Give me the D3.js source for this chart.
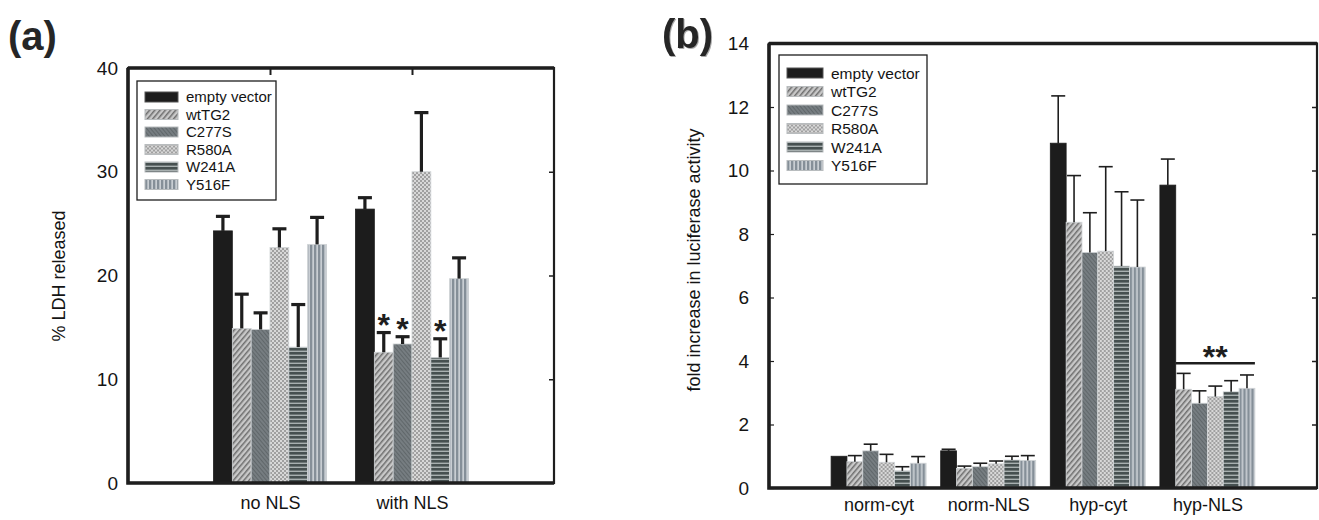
<!DOCTYPE html>
<html>
<head>
<meta charset="utf-8">
<script src="https://cdn.jsdelivr.net/npm/d3@7"></script>
<style>
  body { margin: 0; background: #fff; }
  svg { display: block; font-family: "Liberation Sans", Arial, sans-serif; }
</style>
</head>
<body>
<svg width="1319" height="520"></svg>
<script>
var svg = d3.select("svg");

// series shared by both panels
var seriesNames = ["empty vector", "wtTG2", "C277S", "R580A", "W241A", "Y516F"];

// panel (a): % LDH released
var ldhGroups = ["no NLS", "with NLS"];
var ldhMean = [
    [24.3, 14.9, 14.8, 22.7, 13.1, 23.0],
    [26.4, 12.6, 13.4, 30.0, 12.1, 19.7]
];
var ldhErr = [
    [1.4, 3.3, 1.6, 1.8, 4.1, 2.6],
    [1.1, 1.9, 0.7, 5.7, 1.8, 2.0]
];
var ldhStar = [
    [0, 0, 0, 0, 0, 0],
    [0, 1, 1, 0, 1, 0]
];
var ldhTicks = [0, 10, 20, 30, 40];

// panel (b): fold increase in luciferase activity
var lucGroups = ["norm-cyt", "norm-NLS", "hyp-cyt", "hyp-NLS"];
var lucMean = [
    [1.00, 0.83, 1.17, 0.81, 0.54, 0.78],
    [1.17, 0.62, 0.67, 0.76, 0.88, 0.87],
    [10.86, 8.37, 7.42, 7.46, 6.99, 6.96],
    [9.54, 3.11, 2.67, 2.88, 3.03, 3.14]
];
var lucErr = [
    [0, 0.19, 0.21, 0.25, 0.13, 0.21],
    [0.05, 0.07, 0.11, 0.09, 0.12, 0.15],
    [1.49, 1.47, 1.25, 2.66, 2.34, 2.11],
    [0.82, 0.50, 0.39, 0.33, 0.35, 0.42]
];
var lucTicks = [0, 2, 4, 6, 8, 10, 12, 14];
var lucSigLevel = 3.93;

// ---- patterns ----
var defs = svg.append("defs");

function pat(id, w, h, draw, rot) {
    var p = defs.append("pattern")
        .attr("id", id)
        .attr("patternUnits", "userSpaceOnUse")
        .attr("width", w).attr("height", h);
    if (rot) p.attr("patternTransform", "rotate(" + rot + ")");
    draw(p);
}
pat("p0", 4, 4, p => p.append("rect").attr("width", 4).attr("height", 4).attr("fill", "#1c1c1c"));
pat("p1", 4, 4, p => {
    p.append("rect").attr("width", 4).attr("height", 4).attr("fill", "#c8c8c8");
    p.append("rect").attr("width", 1.5).attr("height", 4).attr("fill", "#6e6e6e");
}, 40);
pat("p2", 3, 3, p => {
    p.append("rect").attr("width", 3).attr("height", 3).attr("fill", "#767d81");
    p.append("rect").attr("width", 1).attr("height", 3).attr("fill", "#60676a");
}, -40);
pat("p3", 4, 4, p => {
    p.append("rect").attr("width", 4).attr("height", 4).attr("fill", "#d8d8d8");
    p.append("rect").attr("width", 2).attr("height", 2).attr("fill", "#a0a0a0");
    p.append("rect").attr("x", 2).attr("y", 2).attr("width", 2).attr("height", 2).attr("fill", "#a0a0a0");
});
pat("p4", 4, 4, p => {
    p.append("rect").attr("width", 4).attr("height", 4).attr("fill", "#a8b0b0");
    p.append("rect").attr("width", 4).attr("height", 2.6).attr("fill", "#465050");
});
pat("p5", 4, 4, p => {
    p.append("rect").attr("width", 4).attr("height", 4).attr("fill", "#c9ced3");
    p.append("rect").attr("width", 2.3).attr("height", 4).attr("fill", "#858f98");
});
var fills = seriesNames.map((d, i) => "url(#p" + i + ")");

var ink = "#1e1e1e";
var textInk = "#141414";

function drawPanel(opt) {
    var g = svg.append("g");
    var x0 = d3.scaleLinear().domain([0, opt.groups.length + 1]).range([opt.left, opt.right]);
    var y = d3.scaleLinear().domain([0, opt.ymax]).range([opt.bottom, opt.top]);
    var xs = d3.scaleBand().domain(d3.range(seriesNames.length))
        .range([-opt.groupW / 2, opt.groupW / 2]);

    // bars
    opt.groups.forEach((grp, gi) => {
        var cx = x0(gi + 1);
        var gg = g.append("g").attr("transform", "translate(" + cx + ",0)");
        var rows = seriesNames.map((s, si) => ({ si: si, v: opt.mean[gi][si], e: opt.err[gi][si] }));

        gg.selectAll("rect.bar").data(rows).enter().append("rect")
            .attr("class", "bar")
            .attr("x", d => xs(d.si))
            .attr("width", xs.bandwidth())
            .attr("y", d => y(d.v))
            .attr("height", d => y(0) - y(d.v))
            .attr("fill", d => fills[d.si])
            .attr("stroke", d => d.si == 0 ? "#1c1c1c" : "#d0d4d6")
            .attr("stroke-width", 0.8);

        var eb = gg.selectAll("g.err").data(rows.filter(d => d.e > 0)).enter().append("g")
            .attr("stroke", ink).attr("stroke-width", opt.errW);
        eb.append("line")
            .attr("x1", d => xs(d.si) + xs.bandwidth() / 2)
            .attr("x2", d => xs(d.si) + xs.bandwidth() / 2)
            .attr("y1", d => y(d.v)).attr("y2", d => y(d.v + d.e));
        eb.append("line")
            .attr("x1", d => xs(d.si) + xs.bandwidth() / 2 - opt.capW / 2)
            .attr("x2", d => xs(d.si) + xs.bandwidth() / 2 + opt.capW / 2)
            .attr("y1", d => y(d.v + d.e)).attr("y2", d => y(d.v + d.e));

        if (opt.star) {
            gg.selectAll("text.star").data(rows.filter(d => opt.star[gi][d.si])).enter().append("text")
                .attr("x", d => xs(d.si) + xs.bandwidth() / 2)
                .attr("y", d => y(d.v + d.e) + 3)
                .attr("text-anchor", "middle")
                .attr("font-size", 32).attr("font-weight", "bold")
                .attr("fill", ink)
                .text("*");
        }

        if (opt.sig && gi == opt.sigGroup) {
            var sx1 = xs(1), sx2 = xs(seriesNames.length - 1) + xs.bandwidth();
            gg.append("line").attr("x1", sx1).attr("x2", sx2)
                .attr("y1", y(opt.sig)).attr("y2", y(opt.sig))
                .attr("stroke", ink).attr("stroke-width", 2.5);
            gg.append("text").attr("x", (sx1 + sx2) / 2).attr("y", y(opt.sig) + 5)
                .attr("text-anchor", "middle").attr("font-size", 32).attr("font-weight", "bold")
                .attr("fill", ink).text("**");
        }
    });

    // frame
    g.append("rect")
        .attr("x", opt.left).attr("y", opt.top)
        .attr("width", opt.right - opt.left).attr("height", opt.bottom - opt.top)
        .attr("fill", "none").attr("stroke", ink).attr("stroke-width", 2.2);
    g.append("path")
        .attr("d", "M" + opt.left + "," + opt.top + "V" + opt.bottom + "H" + opt.right)
        .attr("fill", "none").attr("stroke", ink).attr("stroke-width", 3.6);
    g.append("line").attr("x1", opt.left).attr("x2", opt.right)
        .attr("y1", opt.top).attr("y2", opt.top)
        .attr("stroke", ink).attr("stroke-width", 3.4);

    // y axis labels
    var ya = g.append("g").attr("transform", "translate(" + opt.left + ",0)")
        .call(d3.axisLeft(y).tickValues(opt.ticks).tickSize(opt.leftTick).tickPadding(10 + opt.leftTick));
    ya.select(".domain").remove();
    ya.selectAll("text").attr("font-size", 19).attr("font-family", "Liberation Sans, Arial").attr("fill", textInk);
    ya.selectAll("line").attr("stroke", ink).attr("stroke-width", 1.2).attr("x2", opt.leftTick);

    // right inner ticks
    var ra = g.append("g").attr("transform", "translate(" + opt.right + ",0)")
        .call(d3.axisRight(y).tickValues(opt.ticks.slice(1, -1)).tickSize(-5).tickFormat(""));
    ra.select(".domain").remove();
    ra.selectAll("line").attr("stroke", ink).attr("stroke-width", 1.5);

    // x axis category labels
    var xa = g.append("g").attr("transform", "translate(0," + opt.bottom + ")")
        .call(d3.axisBottom(x0).tickValues(d3.range(1, opt.groups.length + 1))
            .tickSize(0).tickPadding(opt.labelPad).tickFormat(d => opt.groups[d - 1]));
    xa.select(".domain").remove();
    xa.selectAll("text").attr("font-size", 18).attr("font-family", "Liberation Sans, Arial").attr("fill", textInk);

    if (opt.topTicks) {
        var ta = g.append("g").attr("transform", "translate(0," + opt.top + ")")
            .call(d3.axisTop(x0).tickValues(d3.range(1, opt.groups.length + 1)).tickSize(-7).tickFormat(""));
        ta.select(".domain").remove();
        ta.selectAll("line").attr("stroke", ink).attr("stroke-width", 2);
    }

    // y title
    g.append("text")
        .attr("transform", "translate(" + opt.titleX + "," + opt.titleY + ") rotate(-90)")
        .attr("text-anchor", "middle").attr("font-size", 18).attr("fill", textInk)
        .text(opt.title);

    // legend
    var lg = g.append("g").attr("transform", "translate(" + opt.leg[0] + "," + opt.leg[1] + ")");
    lg.append("rect").attr("width", opt.leg[2]).attr("height", opt.leg[3])
        .attr("fill", "#fff").attr("stroke", ink).attr("stroke-width", 1.3);
    var items = lg.selectAll("g.item").data(seriesNames).enter().append("g")
        .attr("transform", (d, i) => "translate(" + opt.legSw[0] + "," + (opt.legSw[1] + i * opt.legStep) + ")");
    items.append("rect").attr("y", -5).attr("width", opt.legSw[2]).attr("height", 10)
        .attr("fill", (d, i) => fills[i])
        .attr("stroke", (d, i) => i == 0 ? "#555" : "#b8bcbe").attr("stroke-width", 1);
    items.append("text").attr("x", opt.legSw[2] + 8).attr("dy", "0.36em")
        .attr("font-size", opt.legFont).attr("fill", textInk).text(d => d);

    // panel letter
    g.append("text").attr("x", opt.letter[0]).attr("y", opt.letter[1])
        .attr("font-size", 40).attr("font-weight", "bold").attr("fill", "#262626")
        .attr("style", opt.shadow ? "filter: drop-shadow(1.5px 1.5px 0.5px #aaa)" : null)
        .text(opt.letterText);
}

drawPanel({
    groups: ldhGroups, mean: ldhMean, err: ldhErr, star: ldhStar,
    ymax: 40, ticks: ldhTicks,
    left: 128, right: 554, top: 68, bottom: 483,
    groupW: 113, errW: 3.2, capW: 14, leftTick: 0, topTicks: true, labelPad: 13,
    title: "% LDH released", titleX: 65, titleY: 276,
    leg: [137, 81, 139, 119], legSw: [8, 16, 33], legStep: 17.5, legFont: 15,
    letter: [8, 50], letterText: "(a)", shadow: false
});

drawPanel({
    groups: lucGroups, mean: lucMean, err: lucErr,
    sig: lucSigLevel, sigGroup: 3,
    ymax: 14, ticks: lucTicks,
    left: 769, right: 1317, top: 43.5, bottom: 488,
    groupW: 95, errW: 1.6, capW: 14, leftTick: 5, topTicks: false, labelPad: 10,
    title: "fold increase in luciferase activity", titleX: 700, titleY: 260,
    leg: [779, 55, 148, 129], legSw: [8, 18, 36], legStep: 18.5, legFont: 15.5,
    letter: [662, 48], letterText: "(b)", shadow: true
});
</script>
</body>
</html>
